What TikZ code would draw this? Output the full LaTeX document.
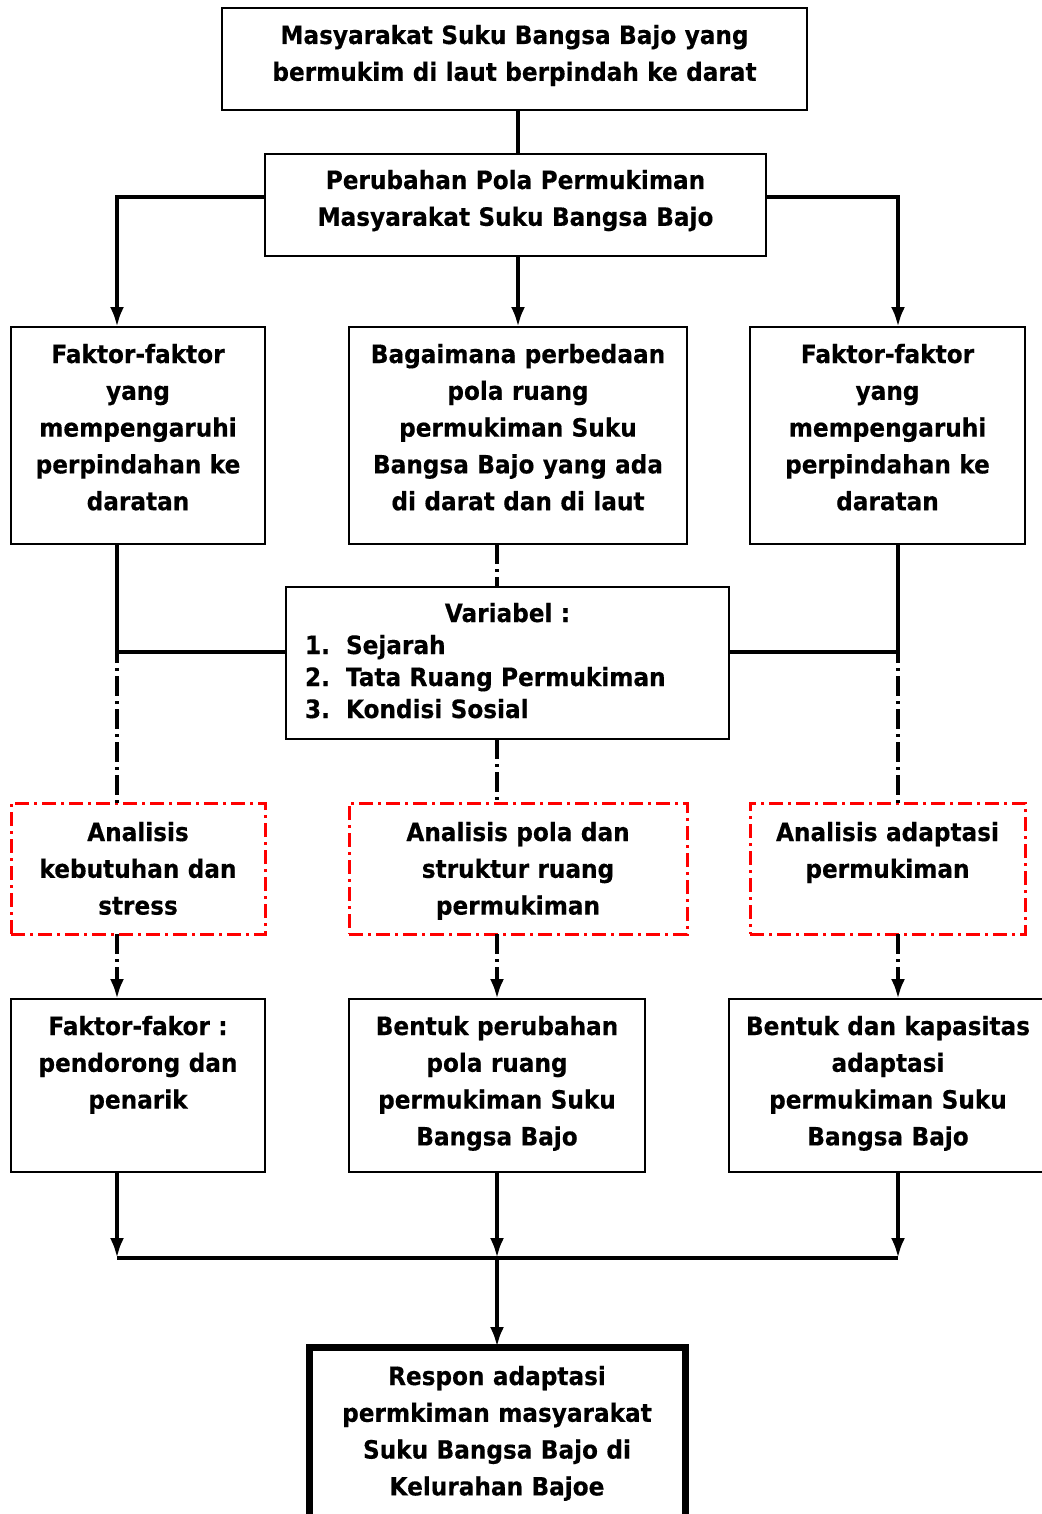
\documentclass[tikz,border=0pt]{standalone}
\usepackage{fontspec}
\setmainfont{DejaVu Sans}[FakeStretch=0.92, BoldFeatures={FakeBold=0.4}]
\usetikzlibrary{arrows.meta,calc}
\newcommand{\varitem}[2]{\makebox[\linewidth][l]{\hspace*{9.5pt}\makebox[20.5pt][l]{#1}#2}}
\tikzset{%
        box/.style = {
            draw = black,
            line width = 0.75pt,
            inner sep = 0pt,
            outer sep = 0pt,
            anchor = north west,
            align = center,
            font = \bfseries\fontsize{12.6}{18.4}\selectfont
        },
        redbox/.style = {
            box,
            draw = red,
            line width = 1.5pt,
            dash pattern = on 7pt off 2.5pt on 1.5pt off 2.5pt
        },
        line/.style = {draw = black, line width = 2pt},
        arr/.style = {line, -{Latex[length = 10pt, width = 7pt]}},
        dd/.style = {line, dash pattern = on 10pt off 2.5pt on 1.5pt off 2.5pt}
}

\begin{document}
\begin{tikzpicture}[x = 0.5pt, y = -0.5pt]
            \useasboundingbox (0, 0) rectangle (1041, 1514);
            % columns of the connectors
            \coordinate (xL) at (117, 0);
            \coordinate (xM) at (497, 0);
            \coordinate (xC) at (518, 0);
            \coordinate (xR) at (898, 0);
            \coordinate (bus) at (497, 1258);

            \node[box, text width = 292.5pt, text height = 18pt, text depth = 33pt] (top) at (222, 8)
                {Masyarakat Suku Bangsa Bajo yang\\ bermukim di laut berpindah ke darat};
            \node[box, text width = 250.5pt, text height = 17.5pt, text depth = 33.5pt] (pola) at (265, 154)
                {Perubahan Pola Permukiman\\ Masyarakat Suku Bangsa Bajo};

            \node[box, text width = 127pt, text height = 18pt, text depth = 90.5pt] (fakL) at (11, 327)
                {Faktor-faktor\\ yang\\ mempengaruhi\\ perpindahan ke\\ daratan};
            \node[box, text width = 169pt, text height = 18pt, text depth = 90.5pt] (fakM) at (349, 327)
                {Bagaimana perbedaan\\ pola ruang\\ permukiman Suku\\ Bangsa Bajo yang ada\\ di darat dan di laut};
            \node[box, text width = 137.5pt, text height = 18pt, text depth = 90.5pt] (fakR) at (750, 327)
                {Faktor-faktor\\ yang\\ mempengaruhi\\ perpindahan ke\\ daratan};

            \node[box, font = \bfseries\fontsize{12.6}{16}\selectfont, text width = 221.5pt,
                  text height = 17.5pt, text depth = 58.5pt] (var) at (286, 587)
                {Variabel :\\ \varitem{1.}{Sejarah}\\ \varitem{2.}{Tata Ruang Permukiman}\\ \varitem{3.}{Kondisi Sosial}};

            \node[redbox, text width = 127pt, text height = 19pt, text depth = 46.5pt] (anL) at (11, 803)
                {Analisis\\ kebutuhan dan\\ stress};
            \node[redbox, text width = 169pt, text height = 19pt, text depth = 46.5pt] (anM) at (349, 803)
                {Analisis pola dan\\ struktur ruang\\ permukiman};
            \node[redbox, text width = 137.5pt, text height = 19pt, text depth = 46.5pt] (anR) at (750, 803)
                {Analisis adaptasi\\ permukiman};

            \node[box, text width = 127pt, text height = 18pt, text depth = 68.5pt] (resL) at (11, 999)
                {Faktor-fakor :\\ pendorong dan\\ penarik};
            \node[box, text width = 148pt, text height = 18pt, text depth = 68.5pt] (resM) at (349, 999)
                {Bentuk perubahan\\ pola ruang\\ permukiman Suku\\ Bangsa Bajo};
            \node[box, text width = 159pt, text height = 18pt, text depth = 68.5pt] (resR) at (729, 999)
                {Bentuk dan kapasitas\\ adaptasi\\ permukiman Suku\\ Bangsa Bajo};

            \node[box, line width = 3.5pt, text width = 188pt, text height = 19pt, text depth = 90pt] (respon) at (309, 1347)
                {Respon adaptasi\\ permkiman masyarakat\\ Suku Bangsa Bajo di\\ Kelurahan Bajoe};

            % top part
            \draw[line] (top.south -| xC) -- (pola.north -| xC);
            \draw[arr] ([yshift = 4pt]pola.west) -| (fakL.north -| xL);
            \draw[arr] (pola.south -| xC) -- (fakM.north -| xC);
            \draw[arr] ([yshift = 4pt]pola.east) -| (fakR.north -| xR);

            % variables
            \draw[line] ([yshift = 5.5pt]var.west) -| (fakL.south -| xL);
            \draw[line] ([yshift = 5.5pt]var.east) -| (fakR.south -| xR);
            \draw[dd] (fakL.south -| xL) -- (anL.north -| xL);
            \draw[dd] (fakR.south -| xR) -- (anR.north -| xR);
            \draw[dd] (fakM.south -| xM) -- (var.north -| xM);
            \draw[dd] (var.south -| xM) -- (anM.north -| xM);

            % analysis to results
            \draw[dd, -{Latex[length = 10pt, width = 7pt]}] (anL.south -| xL) -- (resL.north -| xL);
            \draw[dd, -{Latex[length = 10pt, width = 7pt]}] (anM.south -| xM) -- (resM.north -| xM);
            \draw[dd, -{Latex[length = 10pt, width = 7pt]}] (anR.south -| xR) -- (resR.north -| xR);

            % bottom part
            \draw[arr] (resL.south -| xL) -- (bus -| xL);
            \draw[arr] (resM.south -| xM) -- (bus -| xM);
            \draw[arr] (resR.south -| xR) -- (bus -| xR);
            \draw[line] (bus -| xL) -- (bus -| xR);
            \draw[arr] (bus) -- (bus |- respon.north);
\end{tikzpicture}
\end{document}
